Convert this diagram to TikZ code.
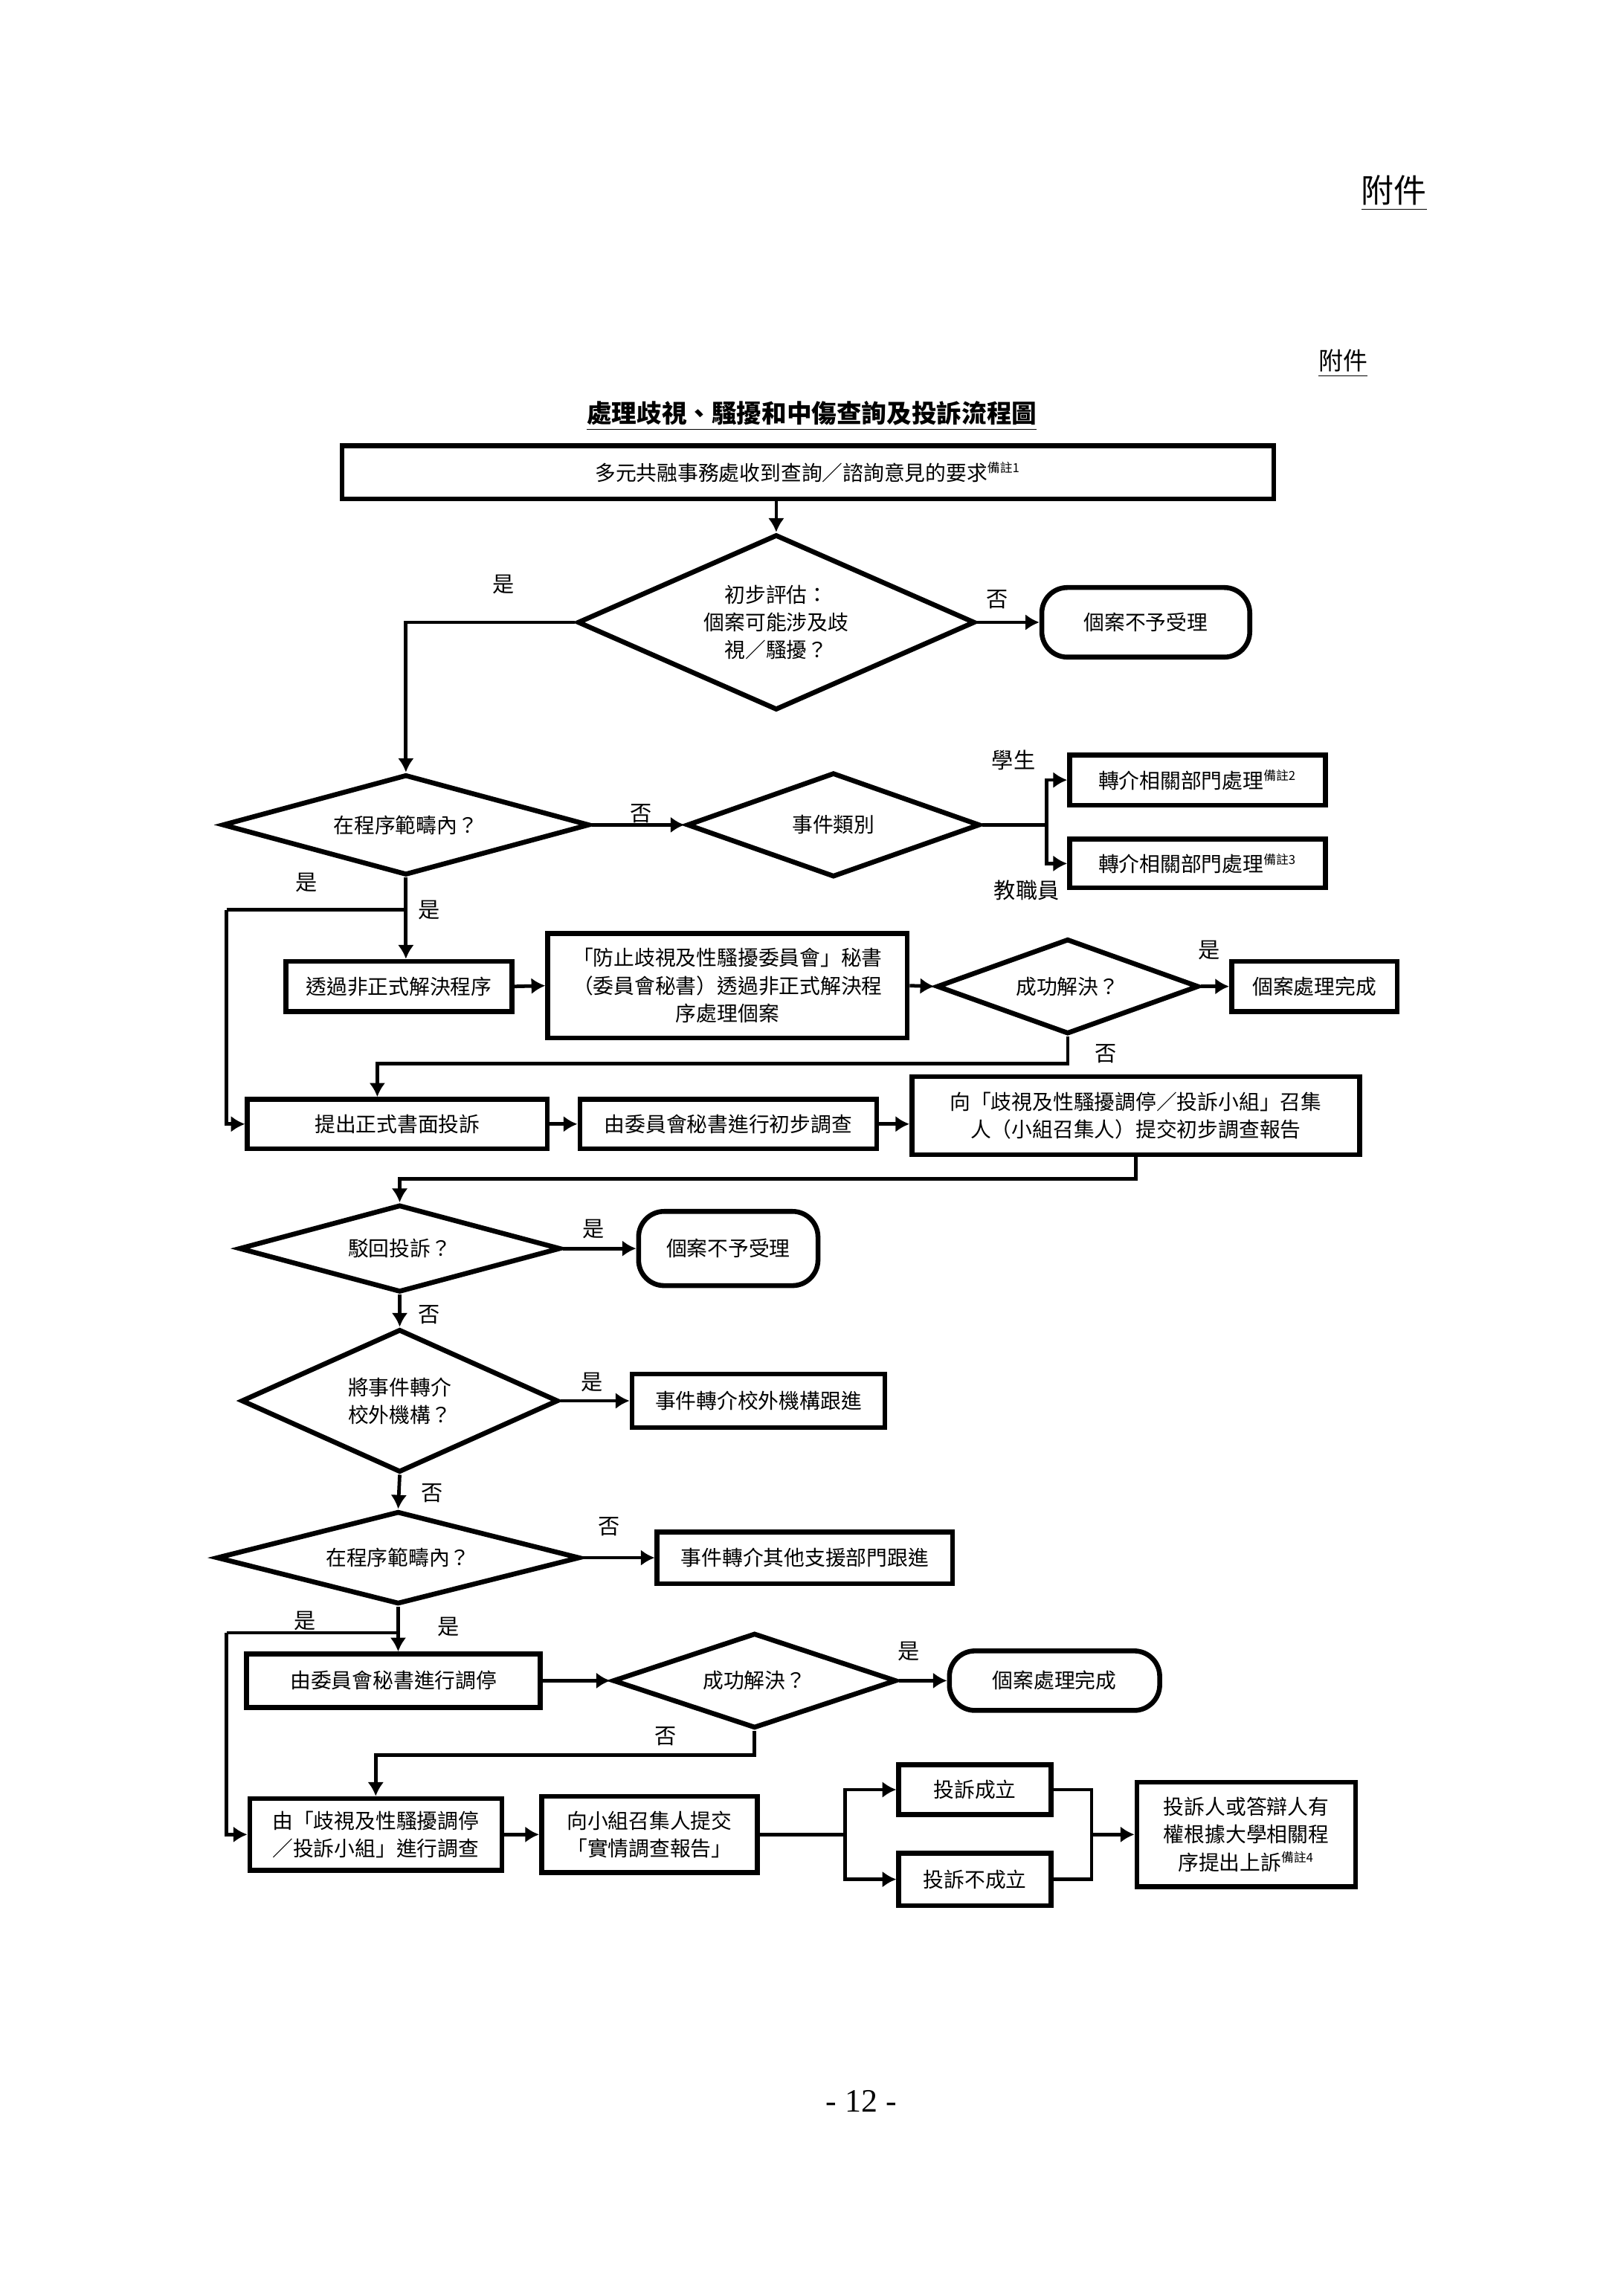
\documentclass[tikz,border=0pt]{standalone}
\usepackage{fontspec}
\setmainfont{Noto Sans CJK TC}
\newfontfamily\timesfont{Liberation Serif}
\usepackage{tikz}
\usetikzlibrary{shapes.geometric}
\usetikzlibrary{arrows.meta}
\usetikzlibrary{calc}
\usetikzlibrary{math}

% remark marks (備註)
\newcommand{\beizhu}[1]{\textsuperscript{\fontsize{4.6}{5}\selectfont 備註#1}}

\begin{document}
\begin{tikzpicture}[x=1cm,y=-1cm,
  every node/.style={font=\fontsize{7.6}{10.2}\selectfont},
  box/.style={draw, line width=1.8pt, align=center, inner sep=1pt},
  terminal/.style={box, rounded corners=3.3mm},
  decision/.style={diamond, draw, line width=1.8pt, align=center, inner sep=0pt},
  link/.style={line width=1.3pt},
  arr/.style={link, -{Latex[length=1.8mm,width=2.1mm]}},
  lab/.style={font=\fontsize{8}{9}\selectfont, inner sep=0pt}]

  \tikzmath{
    \leftx = 2.93;  % x of the two return lines on the left
    \forkx = 13.54; % x of the student / staff fork
  }

  % page
  \useasboundingbox (0,0) rectangle (21,29.7);

  % headings
  \node[inner sep=0pt] (att1) at (18.03,2.50)
    {\fontsize{12}{14}\selectfont\underline{附件}};
  \node[inner sep=0pt] (att2) at (17.37,4.70)
    {\fontsize{9}{11}\selectfont\underline{附件}};
  \node[inner sep=0pt] (title) at (10.50,5.38)
    {\fontsize{9.2}{11}\selectfont\bfseries\underline{處理歧視、騷擾和中傷查詢及投訴流程圖}};

  % first stage: enquiry and assessment
  \node[box, minimum width=12.05cm, minimum height=0.69cm] (start) at (10.45,6.11)
    {多元共融事務處收到查詢／諮詢意見的要求\beizhu{1}};
  \node[decision, aspect=2.26, minimum width=5.14cm, minimum height=2.27cm] (assess) at (10.04,8.05)
    {初步評估：\\個案可能涉及歧\\視／騷擾？};
  \node[terminal, minimum width=2.69cm, minimum height=0.90cm] (reject1) at (14.82,8.05)
    {個案不予受理};

  \draw[arr] (assess.north |- start.south) -- (assess.north);
  \draw[arr] (assess.east) -- (reject1.west);
  \node[lab] at (12.90,7.75) {否};

  \node[decision, aspect=3.65, minimum width=4.75cm, minimum height=1.30cm] (scope1) at (5.25,10.67)
    {在程序範疇內？};
  \node[decision, aspect=2.8, minimum width=3.79cm, minimum height=1.35cm] (kind) at (10.78,10.67)
    {事件類別};
  \node[box, minimum width=3.31cm, minimum height=0.65cm] (refer2) at (15.49,10.09)
    {轉介相關部門處理\beizhu{2}};
  \node[box, minimum width=3.31cm, minimum height=0.63cm] (refer3) at (15.49,11.17)
    {轉介相關部門處理\beizhu{3}};

  \draw[arr] (assess.west) -| (scope1.north);
  \node[lab] at (6.51,7.56) {是};
  \draw[arr] (scope1.east) -- (kind.west);
  \node[lab] at (8.29,10.52) {否};

  % student / staff fork
  \coordinate (kindfork) at (\forkx,10.67);
  \draw[link] (kind.east) -- (kindfork);
  \draw[arr] (kindfork) |- (refer2.west);
  \draw[arr] (kindfork) |- (refer3.west);
  \node[lab] at (13.11,9.83) {學生};
  \node[lab] at (13.28,11.52) {教職員};

  % informal resolution
  \node[box, minimum width=2.92cm, minimum height=0.65cm] (informal) at (5.16,12.76)
    {透過非正式解決程序};
  \node[box, minimum width=4.65cm, minimum height=1.35cm] (infproc) at (9.41,12.75)
    {「防止歧視及性騷擾委員會」秘書\\（委員會秘書）透過非正式解決程\\序處理個案};
  \node[decision, aspect=2.76, minimum width=3.39cm, minimum height=1.23cm] (solved1) at (13.81,12.76)
    {成功解決？};
  \node[box, minimum width=2.14cm, minimum height=0.65cm] (done1) at (17.00,12.76)
    {個案處理完成};

  \coordinate (fork1) at (scope1.south |- 0,11.77);
  \coordinate (left1) at (\leftx,11.77);
  \draw[arr] (scope1.south) -- (scope1.south |- informal.north);
  \node[lab] at (3.96,11.42) {是};
  \node[lab] at (5.55,11.77) {是};
  \draw[arr] (informal.east) -- (infproc.west);
  \draw[arr] (infproc.east) -- (solved1.west);
  \draw[arr] (solved1.east) -- (done1.west);
  \node[lab] at (15.64,12.29) {是};

  % formal complaint
  \node[box, minimum width=3.88cm, minimum height=0.64cm] (formal) at (5.14,14.54)
    {提出正式書面投訴};
  \node[box, minimum width=3.84cm, minimum height=0.64cm] (prelim) at (9.42,14.54)
    {由委員會秘書進行初步調查};
  \node[box, minimum width=5.79cm, minimum height=1.01cm] (report) at (14.69,14.43)
    {向「歧視及性騷擾調停／投訴小組」召集\\人（小組召集人）提交初步調查報告};

  \draw[link] (fork1) -- (left1);
  \draw[arr] (left1) |- (formal.west);
  \coordinate (no1) at (solved1.south |- 0,13.76);
  \draw[arr] (solved1.south) -- (no1) -| ([xshift=-2.6mm]formal.north);
  \node[lab] at (14.30,13.63) {否};
  \draw[arr] (formal.east) -- (prelim.west);
  \draw[arr] (prelim.east) -- (prelim.east -| report.west);

  % dismissal and referral
  \node[decision, aspect=3.7, minimum width=4.16cm, minimum height=1.13cm] (dismiss) at (5.17,16.15)
    {駁回投訴？};
  \node[terminal, minimum width=2.32cm, minimum height=0.96cm] (reject2) at (9.42,16.15)
    {個案不予受理};
  \node[decision, aspect=2.2, minimum width=4.10cm, minimum height=1.85cm] (outside) at (5.17,18.12)
    {將事件轉介\\校外機構？};
  \node[box, minimum width=3.27cm, minimum height=0.69cm] (extern) at (9.81,18.12)
    {事件轉介校外機構跟進};

  \coordinate (down2) at (report.south |- 0,15.25);
  \draw[arr] (report.south) -- (down2) -| (dismiss.north);
  \draw[arr] (dismiss.east) -- (reject2.west);
  \node[lab] at (7.68,15.90) {是};
  \draw[arr] (dismiss.south) -- (outside.north);
  \node[lab] at (5.55,17.01) {否};
  \draw[arr] (outside.east) -- (extern.west);
  \node[lab] at (7.66,17.88) {是};

  % mediation
  \node[decision, aspect=3.9, minimum width=4.70cm, minimum height=1.20cm] (scope2) at (5.15,20.15)
    {在程序範疇內？};
  \node[box, minimum width=3.82cm, minimum height=0.67cm] (support) at (10.41,20.15)
    {事件轉介其他支援部門跟進};
  \node[box, minimum width=3.80cm, minimum height=0.69cm] (mediate) at (5.09,21.74)
    {由委員會秘書進行調停};
  \node[decision, aspect=2.98, minimum width=3.67cm, minimum height=1.23cm] (solved2) at (9.76,21.74)
    {成功解決？};
  \node[terminal, minimum width=2.72cm, minimum height=0.77cm] (done2) at (13.64,21.74)
    {個案處理完成};

  \draw[arr] (outside.south) -- (scope2.north);
  \node[lab] at (5.59,19.31) {否};
  \draw[arr] (scope2.east) -- (support.west);
  \node[lab] at (7.88,19.75) {否};
  \coordinate (fork2) at (scope2.south |- 0,21.12);
  \coordinate (left2) at (\leftx,21.12);
  \draw[arr] (scope2.south) -- (scope2.south |- mediate.north);
  \node[lab] at (3.94,20.97) {是};
  \node[lab] at (5.80,21.04) {是};
  \draw[arr] (mediate.east) -- (solved2.west);
  \draw[arr] (solved2.east) -- (done2.west);
  \node[lab] at (11.75,21.36) {是};

  % investigation and outcome
  \node[box, minimum width=3.26cm, minimum height=0.93cm] (invest) at (4.86,23.73)
    {由「歧視及性騷擾調停\\／投訴小組」進行調查};
  \node[box, minimum width=2.79cm, minimum height=0.99cm] (findings) at (8.40,23.73)
    {向小組召集人提交\\「實情調查報告」};
  \node[box, minimum width=1.97cm, minimum height=0.64cm] (upheld) at (12.61,23.15)
    {投訴成立};
  \node[box, minimum width=1.97cm, minimum height=0.68cm] (notupheld) at (12.61,24.31)
    {投訴不成立};
  \node[box, minimum width=2.83cm, minimum height=1.35cm] (appeal) at (16.12,23.73)
    {投訴人或答辯人有\\權根據大學相關程\\序提出上訴\beizhu{4}};

  \draw[link] (fork2) -- (left2);
  \draw[arr] (left2) |- (invest.west);
  \coordinate (no2) at (solved2.south |- 0,22.70);
  \draw[arr] (solved2.south) -- (no2) -| (invest.north);
  \node[lab] at (8.61,22.46) {否};
  \draw[arr] (invest.east) -- (findings.west);

  \coordinate (split) at (10.93,23.73);
  \coordinate (join) at (14.12,23.73);
  \draw[link] (findings.east) -- (split);
  \draw[arr] (split) |- (upheld.west);
  \draw[arr] (split) |- (notupheld.west);
  \draw[link] (upheld.east) -| (join);
  \draw[link] (notupheld.east) -| (join);
  \draw[arr] (join) -- (appeal.west);

  % page number
  \node[font=\timesfont\fontsize{12}{14}\selectfont] (page) at (11.14,27.18) {- 12 -};

\end{tikzpicture}
\end{document}
